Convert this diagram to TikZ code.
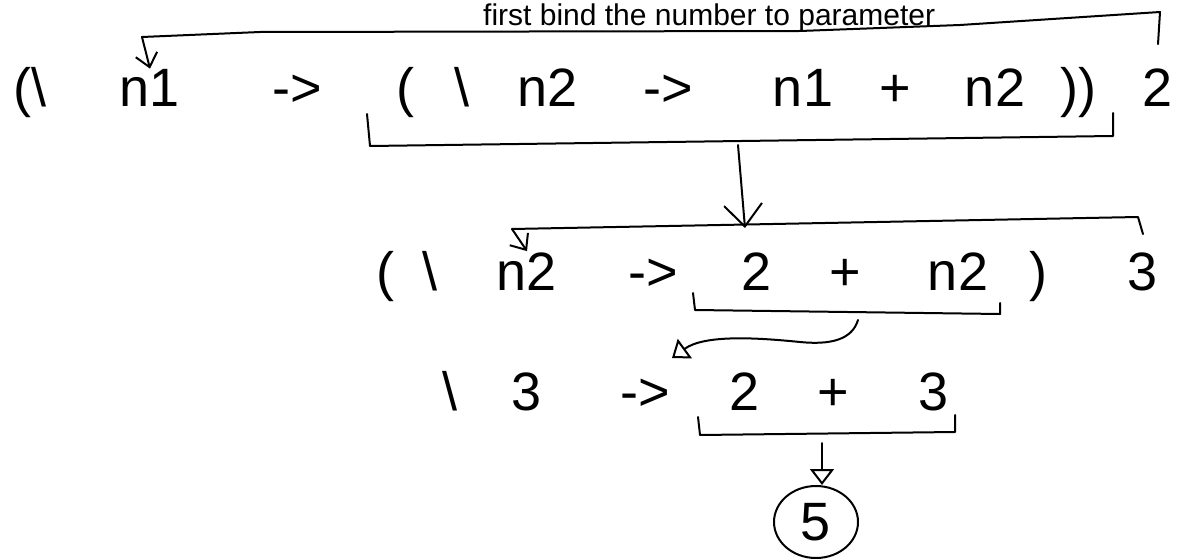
\documentclass[tikz,border=0pt]{standalone}
\usepackage{fontspec}
\setmainfont{Liberation Sans}
\usetikzlibrary{arrows.meta,shapes.geometric}

\begin{document}
\begin{tikzpicture}[
  x=1pt, y=-1pt,
  every node/.style={inner sep=1pt},
  tok/.style={anchor=base, font=\fontsize{54}{56}\selectfont},
  note/.style={anchor=base west, font=\fontsize{30}{32}\selectfont},
  pen/.style={draw, line width=2pt, line cap=round, line join=round},
  arrow/.style={pen, -{Straight Barb[length=13pt,width=22pt]}},
  bigarrow/.style={pen, -{Straight Barb[length=22pt,width=38pt]}},
  tarrow/.style={pen, -{Triangle[open,length=16pt,width=24pt]}},
  result/.style={ellipse, pen, minimum width=84pt, minimum height=72pt,
    inner sep=0pt, font=\fontsize{54}{56}\selectfont}]

  \useasboundingbox (0,0) rectangle (1191,559);

  % ---- first line ---------------------------------------------------------
  \node[tok] (LamA)  at (30,107)   {(\textbackslash};
  \node[tok] (VarA)  at (150,107)  {n1};
  \node[tok] (ArrA)  at (297,107)  {->};
  \node[tok] (ParB)  at (405,107)  {(};
  \node[tok] (LamB)  at (462,107)  {\textbackslash};
  \node[tok] (VarB)  at (548,107)  {n2};
  \node[tok] (ArrB)  at (668,107)  {->};
  \node[tok] (UseA)  at (803,107)  {n1};
  \node[tok] (PlusA) at (895,107)  {+};
  \node[tok] (UseB)  at (995,107)  {n2};
  \node[tok] (ParC)  at (1078,107) {))};
  \node[tok] (ArgA)  at (1158,107) {2};
  \node[note] (Hint) at (482,26)   {first bind the number to parameter};

  % ---- second line --------------------------------------------------------
  \node[tok] (ParD)  at (385,290)  {(};
  \node[tok] (LamC)  at (430,290)  {\textbackslash};
  \node[tok] (VarC)  at (527,290)  {n2};
  \node[tok] (ArrC)  at (653,290)  {->};
  \node[tok] (ValA)  at (757,290)  {2};
  \node[tok] (PlusB) at (845,290)  {+};
  \node[tok] (UseC)  at (958,290)  {n2};
  \node[tok] (ParE)  at (1038,290) {)};
  \node[tok] (ArgB)  at (1143,290) {3};

  % ---- third line ---------------------------------------------------------
  \node[tok] (LamD)  at (450,410)  {\textbackslash};
  \node[tok] (VarD)  at (527,410)  {3};
  \node[tok] (ArrD)  at (645,410)  {->};
  \node[tok] (ValB)  at (745,410)  {2};
  \node[tok] (PlusC) at (833,410)  {+};
  \node[tok] (ValC)  at (934,410)  {3};
  \node[result] (Res) at (816,522) {5};

  % ---- brackets and arrows ------------------------------------------------
  \coordinate (AppR)  at (1160,12);
  \coordinate (AppM)  at (960,25);
  \coordinate (AppL)  at (142,37);
  \coordinate (BodyL) at (367,114);
  \coordinate (BodyM) at (738,145);
  \coordinate (AppR2) at (1138,217);
  \coordinate (AppL2) at (512,229);
  \coordinate (RedA)  at (745,228);
  \coordinate (BodyL2) at (693,293);
  \coordinate (BodyC) at (858,320);
  \coordinate (RedB)  at (672,358);
  \coordinate (SumL)  at (698,417);
  \coordinate (SumM)  at (822,443);

  \draw[arrow] ([yshift=24pt]ArgA.north) -- (AppR) -- (AppM)
    -- ++(-160,6) -- ++(-540,1) -- (AppL) -- (VarA.north);
  \draw[pen] (BodyL) -- ++(3,32) -- ++(743,-10) -- ++(0,-23);
  \draw[bigarrow] (BodyM) -- (RedA);

  \draw[arrow] ([yshift=17pt]ArgB.north) -- (AppR2) -- (AppL2) -- (VarC.north);
  \draw[pen] (BodyL2) -- ++(2,17) -- ++(305,4) -- ++(0,-11);
  \draw[tarrow] (BodyC) .. controls (852,340) and (830,345) .. (800,342)
    .. controls (760,338) and (705,334) .. (RedB);

  \draw[pen] (SumL) -- ++(2,18) -- ++(255,-3) -- ++(0,-17);
  \draw[tarrow] (SumM) -- (SumM |- Res.north);
\end{tikzpicture}
\end{document}
